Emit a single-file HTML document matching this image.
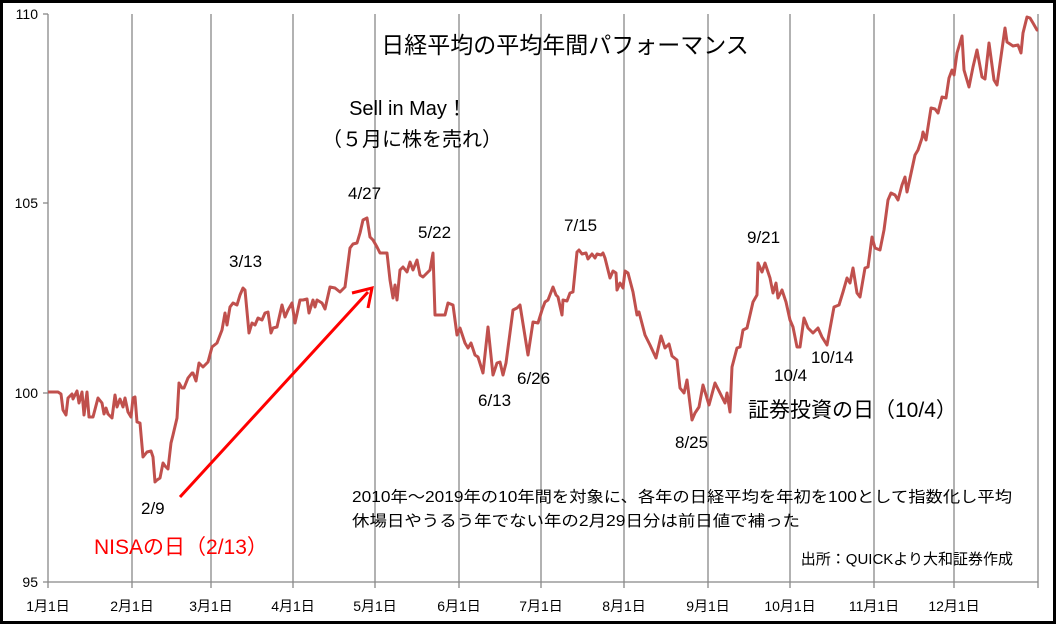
<!DOCTYPE html>
<html><head><meta charset="utf-8"><style>
body{margin:0;background:#fff;}
svg{display:block;font-family:"Liberation Sans","Noto Sans CJK JP",sans-serif;}
</style></head><body>
<svg width="1056" height="624" viewBox="0 0 1056 624">
<rect x="1.5" y="1.5" width="1053" height="621" fill="#fff" stroke="#000" stroke-width="3"/>
<g stroke="#888" stroke-width="1.3">
<line x1="48" y1="14" x2="48" y2="588"/>
<line x1="132" y1="14" x2="132" y2="588"/>
<line x1="211" y1="14" x2="211" y2="588"/>
<line x1="293" y1="14" x2="293" y2="588"/>
<line x1="375" y1="14" x2="375" y2="588"/>
<line x1="459" y1="14" x2="459" y2="588"/>
<line x1="541" y1="14" x2="541" y2="588"/>
<line x1="624" y1="14" x2="624" y2="588"/>
<line x1="708" y1="14" x2="708" y2="588"/>
<line x1="790" y1="14" x2="790" y2="588"/>
<line x1="874" y1="14" x2="874" y2="588"/>
<line x1="954" y1="14" x2="954" y2="588"/>
<line x1="1038" y1="14" x2="1038" y2="588"/>
<line x1="43" y1="582" x2="1038" y2="582"/>
<line x1="43" y1="14" x2="48" y2="14"/>
<line x1="43" y1="203" x2="48" y2="203"/>
<line x1="43" y1="393" x2="48" y2="393"/>
</g>
<g font-size="14" fill="#000" text-anchor="end">
<text x="38" y="19">110</text><text x="38" y="208">105</text><text x="38" y="398">100</text><text x="38" y="587">95</text>
</g>
<g font-size="14" fill="#000" text-anchor="middle">
<text x="48" y="611">1月1日</text><text x="132" y="611">2月1日</text><text x="211" y="611">3月1日</text><text x="293" y="611">4月1日</text><text x="375" y="611">5月1日</text><text x="459" y="611">6月1日</text><text x="541" y="611">7月1日</text><text x="624" y="611">8月1日</text><text x="708" y="611">9月1日</text><text x="790" y="611">10月1日</text><text x="874" y="611">11月1日</text><text x="954" y="611">12月1日</text>
</g>
<polyline fill="none" stroke="#c0504d" stroke-width="3" stroke-linejoin="round" points="48,392 58,392 61,394 63,410 66,415 68,398 72,394 73,399 77,391 79,403 82,392 84,415 87,392 89,417 93,417 98,398 102,403 104,414 106,408 108,414 112,418 115,395 117,407 120,399 123,407 125,398 128,412 131,417 133,398 135,397 137,422 140,423 143,457 147,452 151,451 153,457 155,482 157,480 160,478 163,463 165,466 168,469 171,443 173,435 177,418 179,383 182,388 184,388 188,378 192,373 193,373 196,381 199,363 203,367 208,362 212,347 217,343 222,330 225,313 227,325 230,307 233,303 237,305 240,295 243,288 245,290 249,333 252,323 255,325 258,318 262,320 265,313 268,312 271,333 273,328 277,327 282,305 285,317 288,310 292,303 295,323 300,300 303,300 307,299 309,313 313,300 315,307 317,300 322,303 325,309 330,287 335,288 340,292 345,287 350,248 353,244 357,243 360,233 363,220 367,218 370,237 373,240 377,247 380,253 387,253 390,280 393,298 395,285 397,300 400,270 403,267 407,272 410,262 413,270 417,260 420,275 423,277 427,273 430,270 433,253 435,315 440,315 445,315 448,303 453,305 457,335 460,328 465,343 468,348 471,343 475,355 478,357 483,373 488,327 493,375 497,363 500,362 503,375 506,363 513,310 517,308 520,305 528,355 533,322 538,323 542,310 545,302 548,300 553,287 556,295 558,297 562,315 563,300 567,301 570,293 573,292 577,252 579,250 582,254 586,253 588,259 592,254 595,258 597,254 601,255 603,253 605,258 610,278 613,271 616,273 617,290 620,283 623,288 625,271 628,273 633,292 637,315 639,312 645,335 650,345 656,358 661,336 665,348 669,344 672,356 677,360 680,388 684,393 687,380 692,420 695,413 699,407 703,385 709,405 715,383 720,393 725,403 727,393 730,412 732,367 737,348 740,347 743,330 747,328 750,315 753,302 757,295 758,263 762,272 765,263 770,278 773,293 776,283 778,298 782,290 786,302 790,320 793,327 797,347 800,347 804,318 808,328 813,333 818,328 822,337 827,345 834,307 839,305 843,292 847,278 850,283 853,268 857,293 860,297 865,268 868,267 872,237 875,248 880,250 884,230 888,200 891,193 895,195 898,200 902,185 905,177 907,192 915,155 918,150 922,138 923,132 926,140 931,108 935,109 938,113 942,97 946,98 949,78 952,70 954,75 957,53 962,36 964,70 969,87 973,67 977,50 982,77 985,79 989,43 994,80 997,85 1005,28 1007,42 1013,46 1018,45 1021,53 1023,33 1027,17 1030,18 1033,23 1037,30 1038,30"/>
<line x1="180" y1="497" x2="368" y2="292" stroke="#ff0000" stroke-width="3"/>
<polyline points="352,293 372,288 368,308" fill="none" stroke="#ff0000" stroke-width="3"/>
<text x="565" y="53" font-size="23" text-anchor="middle">日経平均の平均年間パフォーマンス</text>
<text x="408" y="115" font-size="20" text-anchor="middle">Sell in May！</text>
<text x="412" y="146" font-size="20" text-anchor="middle">（５月に株を売れ）</text>
<g font-size="17" fill="#000">
<text x="348" y="199">4/27</text><text x="229" y="267">3/13</text><text x="418" y="238">5/22</text><text x="478" y="406">6/13</text><text x="517" y="384">6/26</text><text x="564" y="231">7/15</text><text x="675" y="448">8/25</text><text x="747" y="243">9/21</text><text x="774" y="381">10/4</text><text x="811" y="363">10/14</text><text x="141" y="514">2/9</text>
</g>
<text x="748" y="417" font-size="21">証券投資の日（10/4）</text>
<text x="94" y="554" font-size="21" fill="#ff0000">NISAの日（2/13）</text>
<text x="352" y="502" font-size="15.5" textLength="660" lengthAdjust="spacingAndGlyphs">2010年～2019年の10年間を対象に、各年の日経平均を年初を100として指数化し平均</text>
<text x="352" y="526" font-size="15.5" textLength="448" lengthAdjust="spacingAndGlyphs">休場日やうるう年でない年の2月29日分は前日値で補った</text>
<text x="1013" y="564" font-size="15" text-anchor="end">出所：QUICKより大和証券作成</text>
</svg>
</body></html>
